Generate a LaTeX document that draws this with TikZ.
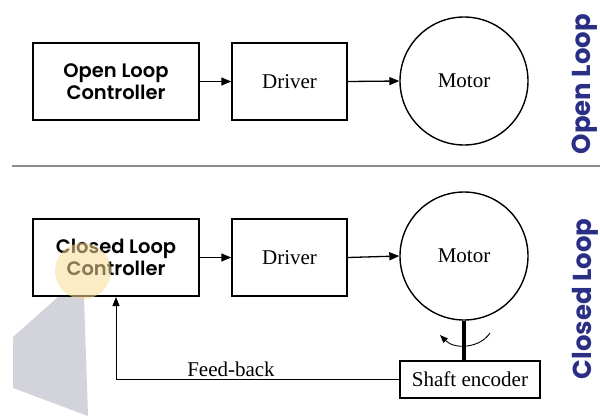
\documentclass[tikz,border=0pt]{standalone}
\usepackage{fontspec}
\setmainfont{Liberation Serif}
\newfontfamily\gothic{Poppins}[UprightFont=* SemiBold, BoldFont=* Bold]
\usetikzlibrary{arrows.meta}
\definecolor{navy}{HTML}{2A2F85}
\definecolor{rule}{HTML}{8C8C8C}
\definecolor{spot}{HTML}{F8DC98}
\definecolor{cone}{HTML}{D3D3DB}
\tikzset{
  ctrlbox/.style={draw, line width=2pt, minimum width=166pt, minimum height=77pt,
    align=center, font=\gothic\fontsize{19.5}{22}\selectfont},
  blockbox/.style={draw, line width=1.5pt, minimum width=115pt, minimum height=77pt,
    font=\fontsize{21}{24}\selectfont},
  motor/.style={draw, circle, line width=1.4pt, minimum size=128pt, inner sep=0pt,
    font=\fontsize{21}{24}\selectfont},
  encbox/.style={draw, line width=1.4pt, minimum width=140pt, minimum height=37pt,
    font=\fontsize{21}{24}\selectfont},
  flow/.style={line width=1.3pt, -{Triangle[length=10pt,width=8pt]}},
  sidelabel/.style={rotate=90, text=navy, font=\gothic\bfseries\fontsize{26}{30}\selectfont},
}
\begin{document}
\begin{tikzpicture}[x=1pt, y=-1pt]
\useasboundingbox (0,0) rectangle (600,416);

% pointer cone
\fill[cone] (58,297) -- (84,297) -- (88,416) -- (13,388) -- (13,337) -- cycle;

% open loop
\node[ctrlbox] (olc) at (116,81.5) {Open Loop\\Controller};
\node[blockbox] (odrv) at (289.5,81.5) {Driver};
\node[motor] (omot) at (464,81) {Motor};
\draw[flow] (olc.east) -- (odrv.west);
\draw[flow] (odrv.east) -- (omot.west);
\node[sidelabel] (olab) at (585,84) {Open Loop};

% separator
\coordinate (sepl) at (12,166);
\coordinate (sepr) at (600,166);
\draw[rule, line width=1.5pt] (sepl) -- (sepr);

% closed loop
\node[ctrlbox] (clc) at (116,257.5) {Closed Loop\\Controller};
\node[blockbox] (cdrv) at (289.5,257.5) {Driver};
\node[motor] (cmot) at (464,256) {Motor};
\node[encbox] (enc) at (470,379.5) {Shaft encoder};
\draw[flow] (clc.east) -- (cdrv.west);
\draw[flow] (cdrv.east) -- (cmot.west);
\draw[line width=4.5pt] (cmot.south) -- (cmot.south |- enc.north);
\coordinate (fbc) at (116,379.5);
\draw[line width=1pt, -{Triangle[length=9pt,width=7pt]}] (enc.west) -- (fbc) -- (fbc |- clc.south);
\node[font=\fontsize{21}{24}\selectfont, anchor=south, inner sep=2pt] (fb) at (231,379) {Feed-back};
\coordinate (rotA) at (490,333);
\coordinate (rotB) at (440,335);
\draw[line width=0.9pt, -{Triangle[length=8pt,width=6pt]}] (rotA) .. controls (480,348) and (455,350) .. (rotB);
\node[sidelabel] (clab) at (585,299) {Closed Loop};

% pointer spot, translucent over the text
\fill[spot, opacity=0.55] (83,271) circle (28);
\end{tikzpicture}
\end{document}
